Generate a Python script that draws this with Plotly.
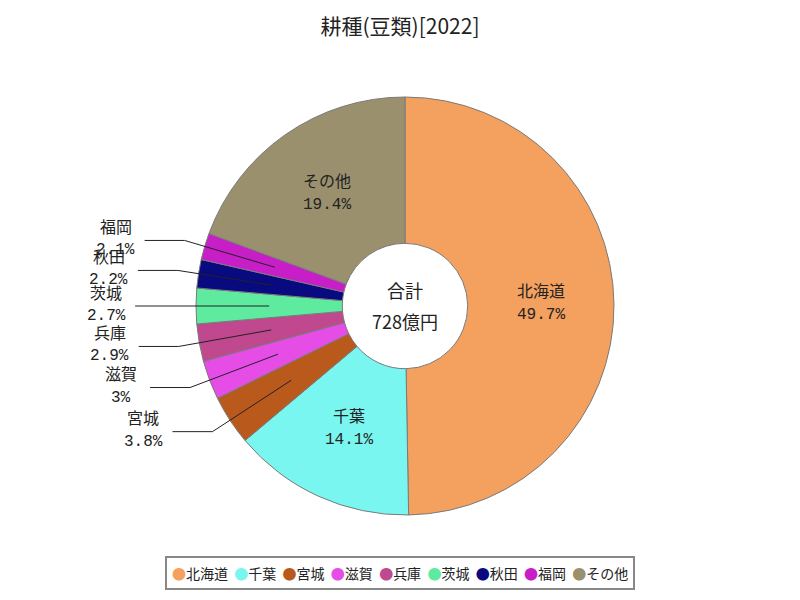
import math
import plotly.graph_objects as go

# ---- data ----
categories = ["北海道", "千葉", "宮城", "滋賀", "兵庫", "茨城", "秋田", "福岡", "その他"]
values = [362, 103, 28, 22, 21, 20, 16, 15, 141]  # 億円
colors = ["#f4a05e", "#7af6f0", "#b9591c", "#e64ce6", "#c0488e",
          "#5eeba0", "#0a0a80", "#c81ec8", "#9a906e"]
outside = [False, False, True, True, True, True, True, True, False]
title_text = "耕種(豆類)[2022]"
unit = "億円"

# ---- geometry (pixels) ----
W, H = 800, 600
CX, CY, R = 405, 306, 209
HOLE = 0.3

def px(x):
    return x / W

def py(y):
    return 1 - y / H

total = sum(values)

fig = go.Figure()
fig.add_trace(go.Pie(
    labels=categories, values=values, sort=False, direction="clockwise",
    rotation=0, hole=HOLE, textinfo="none",
    marker=dict(colors=colors, line=dict(color="#7a7a7a", width=1)),
    domain=dict(x=[px(CX - R), px(CX + R)], y=[py(CY + R), py(CY - R)]),
    showlegend=False,
))

label_font = dict(family="Liberation Mono, Noto Sans CJK JP", size=16, color="#222")
annotations = []
shapes = []
cum = 0.0
for name, v, out in zip(categories, values, outside):
    ang = (cum + v / 2) / total * 2 * math.pi
    cum += v
    pct = round(v / total * 100, 1)
    pct_s = f"{pct:g}%"
    s, c = math.sin(ang), math.cos(ang)
    if out:
        x0, y0 = CX + 0.65 * R * s, CY - 0.65 * R * c
        x1, y1 = CX + 1.1 * R * s, CY - 1.1 * R * c
        x2, y2 = x1 - 40, y1
        shapes.append(dict(
            type="path", xref="paper", yref="paper",
            path=f"M {px(x0)},{py(y0)} L {px(x1)},{py(y1)} L {px(x2)},{py(y2)}",
            line=dict(color="#222", width=1),
        ))
        tx, ty = x2 - 29, y2
    else:
        rm = (HOLE * R + R) / 2
        tx, ty = CX + rm * s, CY - rm * c
    annotations.append(dict(x=px(tx), y=py(ty - 12), xref="paper", yref="paper",
                            text=name, showarrow=False, font=label_font,
                            xanchor="center", yanchor="middle"))
    annotations.append(dict(x=px(tx), y=py(ty + 10), xref="paper", yref="paper",
                            text=pct_s, showarrow=False, font=label_font,
                            xanchor="center", yanchor="middle"))

center_font = dict(family="Noto Sans CJK JP", size=18, color="#222")
annotations.append(dict(x=px(CX), y=py(290), xref="paper", yref="paper",
                        text="合計", showarrow=False, font=center_font))
annotations.append(dict(x=px(CX), y=py(321), xref="paper", yref="paper",
                        text=f"{total}{unit}", showarrow=False, font=center_font))

# legend built as text
legend_items = [f"<span style='color:{col}'>●</span>{name}" for name, col in zip(categories, colors)]
annotations.append(dict(
    x=0.5, y=py(573), xref="paper", yref="paper", showarrow=False,
    text="&nbsp;&nbsp;".join(legend_items),
    font=dict(family="Noto Sans CJK JP", size=14, color="#222"),
    bordercolor="#888", borderwidth=2, borderpad=5, bgcolor="white",
    xanchor="center", yanchor="middle",
))

fig.update_layout(
    width=W, height=H,
    margin=dict(l=0, r=0, t=0, b=0),
    paper_bgcolor="white", plot_bgcolor="white",
    title=dict(text=title_text, x=0.5, xanchor="center", y=py(27), yanchor="middle",
               font=dict(family="Noto Sans CJK JP", size=21, color="#222")),
    annotations=annotations, shapes=shapes,
)
fig.write_html("out.html")
